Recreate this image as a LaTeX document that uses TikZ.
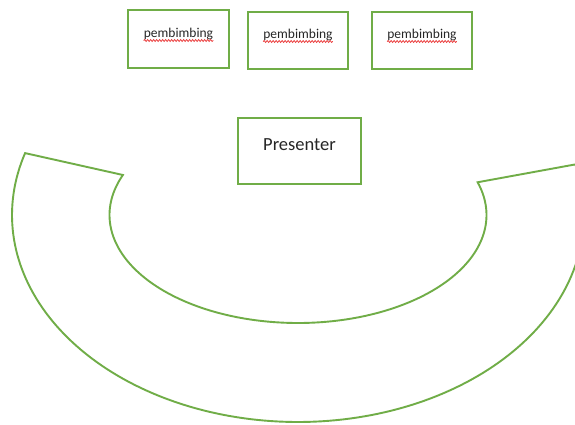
\documentclass[tikz,border=0pt]{standalone}
\usepackage{fontspec}
\setmainfont{Carlito}
\usetikzlibrary{decorations.pathmorphing,calc}
\definecolor{wgreen}{RGB}{112,173,71}
\definecolor{sred}{RGB}{235,60,60}
\begin{document}
\begin{tikzpicture}[x=1pt,y=-1pt,
  box/.style={draw=wgreen,line width=1.9pt,fill=white,inner sep=0pt},
  ring/.style={draw=wgreen,line width=1.9pt},
  pb/.style={font=\fontsize{13.5}{15}\selectfont,anchor=base,inner sep=0pt,text=black!85},
  pres/.style={font=\fontsize{18.5}{21}\selectfont,anchor=base,inner sep=0pt,text=black!85},
  squig/.style={draw=sred,line width=0.8pt,decorate,decoration={snake,amplitude=0.9pt,segment length=3pt}}]
\useasboundingbox (0,0) rectangle (575,424);
\fill[white] (0,0) rectangle (575,424);
% block arc
\draw[ring] plot[domain=197.4:-14.15,samples=150] ({298+286*cos(\x)},{215+207*sin(\x)})
  -- plot[domain=-17.65:201.75,samples=150] ({298+188.5*cos(\x)},{215+108*sin(\x)}) -- cycle;
% boxes
\node[box,minimum width=101pt,minimum height=58pt] (b1) at (178.5,39) {};
\node[box,minimum width=100pt,minimum height=57pt] (b2) at (298,40.5) {};
\node[box,minimum width=100pt,minimum height=57pt] (b3) at (422,40.5) {};
\node[box,minimum width=123pt,minimum height=66pt] (bp) at (299.5,151) {};
% texts
\node[pb] (t1) at (178.5,37.5) {pembimbing};
\node[pb] (t2) at (298,38.5) {pembimbing};
\node[pb] (t3) at (422,38.5) {pembimbing};
\node[pres] (tp) at (299.5,150) {Presenter};
% spell-check squiggles
\draw[squig] ($(t1.base west)+(0,3)$) -- ($(t1.base east)+(0,3)$);
\draw[squig] ($(t2.base west)+(0,3)$) -- ($(t2.base east)+(0,3)$);
\draw[squig] ($(t3.base west)+(0,3)$) -- ($(t3.base east)+(0,3)$);
\end{tikzpicture}
\end{document}
